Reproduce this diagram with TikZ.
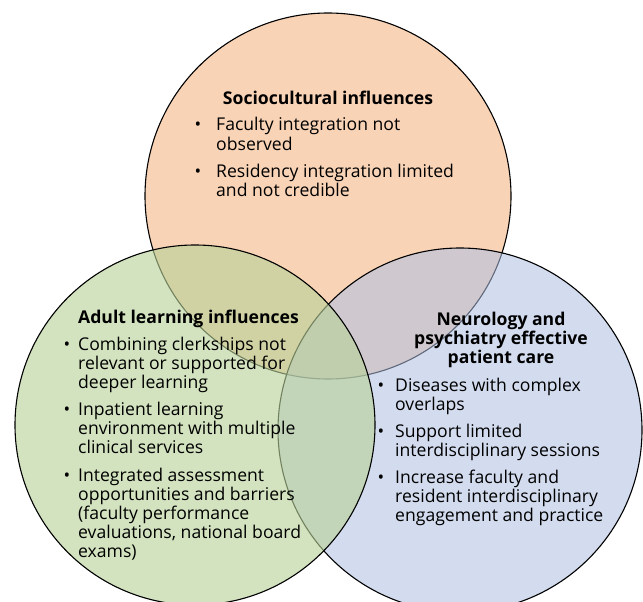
\documentclass[tikz,border=0pt]{standalone}
\usepackage{fontspec}
\setmainfont{Open Sans}
\definecolor{peach}{RGB}{248,211,182}
\definecolor{bluec}{RGB}{175,192,226}
\definecolor{greenc}{RGB}{184,210,153}
\newcommand\mybul[1]{\llap{\textbullet\hspace{#1}}}
\newcommand\lns[1]{\begin{tabular}[t]{@{}l@{}}#1\end{tabular}}
\newcommand\clns[1]{\begin{tabular}[t]{@{}c@{}}#1\end{tabular}}
\begin{document}
\begin{tikzpicture}[x=1pt,y=-1pt,
  circ/.style={circle, draw=black, line width=1.1pt, inner sep=0pt, minimum size=#1},
  body/.style={anchor=base west, inner sep=0pt, font=\fontsize{17.6}{19.2}\selectfont},
  ttl/.style={anchor=base, inner sep=0pt, font=\bfseries\fontsize{17.6}{19.2}\selectfont}]
\useasboundingbox (0,0) rectangle (643,602);
\fill[white] (0,0) rectangle (643,602);
\node[circ=366pt, fill=peach] (top) at (328,196) {};
\node[circ=364pt, fill=bluec, fill opacity=0.55] (right) at (460,430) {};
\node[circ=360pt, fill=greenc, fill opacity=0.62] (left) at (195,425) {};
% top
\node[ttl] (t0) at (328,104) {Sociocultural influences};
\node[body] (t1) at (216,131) {\lns{\mybul{15pt}Faculty integration not\\observed}};
\node[body] (t2) at (216,177) {\lns{\mybul{15pt}Residency integration limited\\and not credible}};
% left
\node[body, font=\bfseries\fontsize{17.6}{19.2}\selectfont] (l0) at (78,323) {Adult learning influences};
\node[body] (l1) at (78,350) {\lns{\mybul{8pt}Combining clerkships not\\relevant or supported for\\deeper learning}};
\node[body] (l2) at (78,415) {\lns{\mybul{8pt}Inpatient learning\\environment with multiple\\clinical services}};
\node[body] (l3) at (78,481) {\lns{\mybul{8pt}Integrated assessment\\opportunities and barriers\\(faculty performance\\evaluations, national board\\exams)}};
% right
\node[ttl] (r0) at (501,325) {\clns{Neurology and\\psychiatry effective\\patient care}};
\node[body] (r1) at (395,391) {\lns{\mybul{11pt}Diseases with complex\\overlaps}};
\node[body] (r2) at (395,437) {\lns{\mybul{11pt}Support limited\\interdisciplinary sessions}};
\node[body] (r3) at (395,483) {\lns{\mybul{11pt}Increase faculty and\\resident interdisciplinary\\engagement and practice}};
\end{tikzpicture}
\end{document}
